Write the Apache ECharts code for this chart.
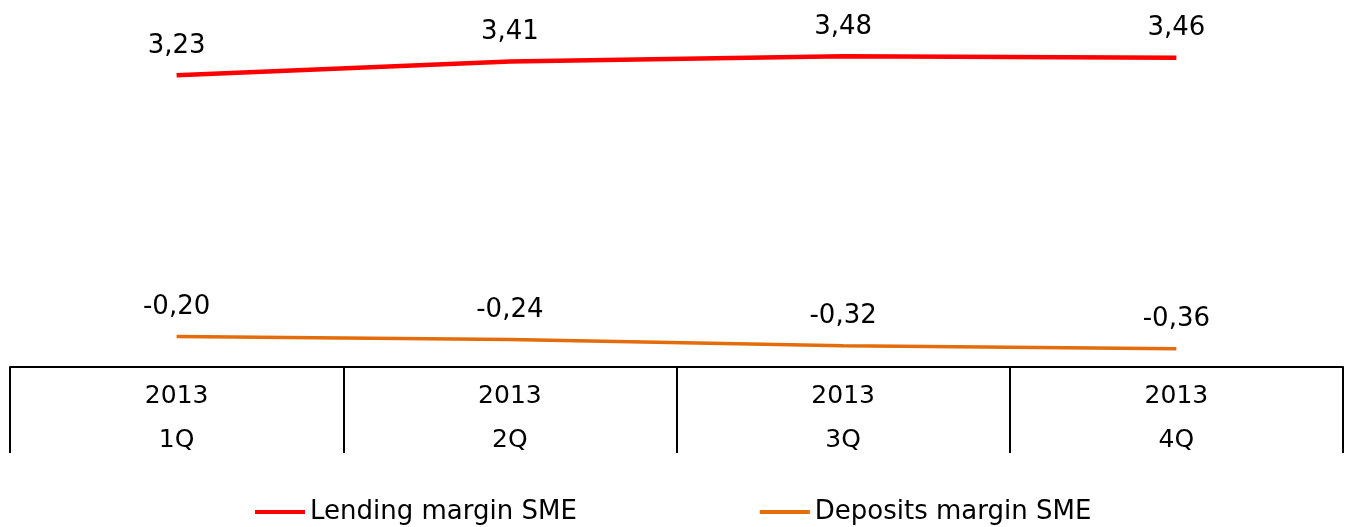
<!DOCTYPE html>
<html lang="en">
<head>
    <meta charset="UTF-8">
    <title>SME margins</title>
    <style>
        body{
            margin: 0;
            background-color: #ffffff;
        }
    </style>
    <script src="https://cdn.jsdelivr.net/npm/echarts@6/dist/echarts.min.js"></script>
</head>
<body>
<div id="chart" style="width: 1355px;height:527px;"></div>
<script type="text/javascript">
    var categories = ['2013\n1Q', '2013\n2Q', '2013\n3Q', '2013\n4Q'];
    var lending = [3.23, 3.41, 3.48, 3.46];
    var deposits = [-0.20, -0.24, -0.32, -0.36];

    function commaFmt(p){
        return p.value.toFixed(2).replace('.', ',');
    }

    var option ={
        animation:false,
        textStyle:{fontFamily:'DejaVu Sans'},
        grid:{left:10, right:12, top:47, bottom:160},
        legend:{
            bottom:-3,
            left:250,
            itemWidth:50,
            itemHeight:4,
            itemGap:183,
            itemTextGap:6,
            icon:'rect',
            textStyle:{fontSize:26, color:'#000'},
            data:['Lending margin SME','Deposits margin SME']
        },
        xAxis:{
            type:'category',
            data:categories,
            boundaryGap:true,
            axisLine:{onZero:false, lineStyle:{color:'#000', width:2}},
            axisTick:{show:true, length:86, lineStyle:{color:'#000', width:2}},
            axisLabel:{color:'#000', fontSize:25, lineHeight:44, margin:7}
        },
        yAxis:{
            type:'value',
            min:-0.6,
            max:3.6,
            show:false,
            splitLine:{show:false}
        },
        series:[{
            name:'Lending margin SME',
            type:'line',
            data:lending,
            symbol:'circle',
            symbolSize:0,
            color:'#ff0000',
            lineStyle:{width:4.5, color:'#ff0000'},
            label:{show:true, position:'top', distance:16, fontSize:26, color:'#000', formatter:commaFmt}
        },{
            name:'Deposits margin SME',
            type:'line',
            data:deposits,
            symbol:'circle',
            symbolSize:0,
            color:'#e46c0a',
            lineStyle:{width:3.5, color:'#e46c0a'},
            label:{show:true, position:'top', distance:16, fontSize:26, color:'#000', formatter:commaFmt}
        }]
    };
    var chart = echarts.init(document.getElementById('chart'));
    chart.setOption(option);
</script>
</body>
</html>
